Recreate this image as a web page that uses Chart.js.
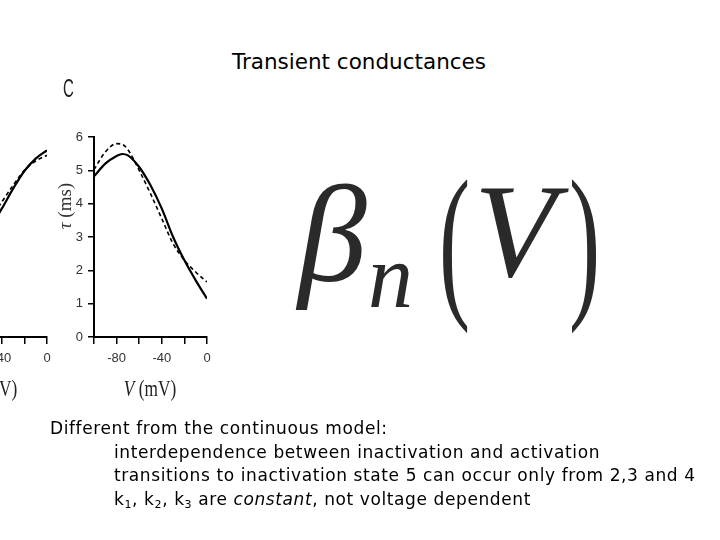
<!DOCTYPE html>
<html>
<head>
<meta charset="utf-8">
<script src="https://cdn.jsdelivr.net/npm/chart.js@4"></script>
<style>
  html, body { margin: 0; padding: 0; }
  body { width: 720px; height: 540px; position: relative; overflow: hidden; background: #fff; font-family: "DejaVu Sans", sans-serif; color: #000; }
  canvas { position: absolute; }
  .abs { position: absolute; white-space: nowrap; }
  #title { left: 0; width: 718px; top: 48px; text-align: center; font-size: 21.5px; line-height: 27px; }
  #notes { left: 50px; top: 417px; font-size: 17px; line-height: 23.5px; letter-spacing: 0.6px; }
  #notes .ind { padding-left: 64px; }
  #notes sub { font-size: 11px; vertical-align: -3px; line-height: 0; }
  .serif { font-family: "Liberation Serif", serif; }
  .xtitle { top: 374px; width: 120px; text-align: center; font-size: 24px; line-height: 28px; transform: scaleX(0.72); color: #222; }
  #ytitle { left: 35px; top: 195px; width: 60px; text-align: center; font-size: 19px; line-height: 22px; transform: rotate(-90deg); color: #333; }
  #panel { left: 63px; top: 73px; font-family: "Liberation Sans", sans-serif; font-size: 25px; line-height: 30px; transform: scaleX(0.6); transform-origin: left top; color: #222; }
  .math { font-family: "Liberation Serif", serif; line-height: 1; color: #2a2a2a; filter: blur(0.6px); }
  .paren { transform: scaleX(0.55); transform-origin: left top; }
</style>
</head>
<body>
<div id="title" class="abs">Transient conductances</div>

<canvas id="leftPanel" width="180" height="300" style="left:-120px; top:120px;"></canvas>
<canvas id="mainPanel" width="180" height="300" style="left:40px; top:120px;"></canvas>

<div id="panel" class="abs">C</div>
<div id="ytitle" class="abs serif"><i>τ</i> (ms)</div>
<div class="abs serif xtitle" style="left:-69px;"><i>V</i> (mV)</div>
<div class="abs serif xtitle" style="left:90px;"><i>V</i> (mV)</div>

<span class="abs math" style="left:298px; top:166px; font-size:138px;"><i>β</i></span>
<span class="abs math" style="left:368px; top:232px; font-size:90px;"><i>n</i></span>
<span class="abs math paren" style="left:439px; top:155px; font-size:170px;">(</span>
<span class="abs math" style="left:474px; top:164px; font-size:134px;"><i>V</i></span>
<span class="abs math paren" style="left:569px; top:155px; font-size:170px;">)</span>

<div id="notes" class="abs">
  <div>Different from the continuous model:</div>
  <div class="ind">interdependence between inactivation and activation</div>
  <div class="ind">transitions to inactivation state 5 can occur only from 2,3 and 4</div>
  <div class="ind">k<sub>1</sub>, k<sub>2</sub>, k<sub>3</sub> are <i>constant</i>, not voltage dependent</div>
</div>

<script>
// panel C: time constant vs voltage (solid and dashed model)
const voltC = [-100, -90, -80, -75, -70, -60, -50, -40, -30, -20, -10, 0];
const tauSolidC = [4.82, 5.2, 5.43, 5.49, 5.45, 5.1, 4.55, 3.85, 3.0, 2.3, 1.7, 1.15];
const tauDashedC = [5.02, 5.55, 5.8, 5.78, 5.62, 5.0, 4.3, 3.55, 2.8, 2.3, 1.95, 1.65];

// neighbouring panel, only its right end is visible
const voltB = [-50, -40, -30, -20, -10, 0];
const tauSolidB = [3.3, 3.85, 4.45, 4.98, 5.35, 5.6];
const tauDashedB = [3.55, 4.05, 4.55, 5.0, 5.28, 5.45];

const xLabelled = [-80, -40, 0];
const tickFont = { family: "'Liberation Sans', sans-serif", size: 13 };

function toPoints(xs, ys) {
  return xs.map((x, i) => ({ x: x, y: ys[i] }));
}

function makePanel(id, volts, solid, dashed) {
  const ctx = document.getElementById(id).getContext("2d");
  return new Chart(ctx, {
    type: "line",
    data: {
      datasets: [
        {
          label: "solid",
          data: toPoints(volts, solid),
          borderColor: "#000",
          borderWidth: 2.2,
          pointRadius: 0,
          cubicInterpolationMode: "monotone",
          fill: false,
        },
        {
          label: "dashed",
          data: toPoints(volts, dashed),
          borderColor: "#000",
          borderWidth: 1.6,
          borderDash: [4, 3],
          pointRadius: 0,
          cubicInterpolationMode: "monotone",
          fill: false,
        },
      ],
    },
    options: {
      responsive: false,
      animation: false,
      layout: { padding: { left: 14, top: 17, right: 13, bottom: 43 } },
      plugins: { legend: { display: false }, tooltip: { enabled: false } },
      scales: {
        x: {
          type: "linear",
          min: -100,
          max: 0,
          afterFit: (s) => { s.height = 40; },
          border: { display: true, color: "#000", width: 2 },
          grid: { drawOnChartArea: false, drawTicks: true, tickLength: 7, color: "#000", lineWidth: 1.5 },
          ticks: {
            stepSize: 20,
            padding: 7,
            color: "#333",
            font: tickFont,
            maxRotation: 0,
            autoSkip: false,
            callback: (v) => (xLabelled.includes(v) ? v : ""),
          },
        },
        y: {
          min: 0,
          max: 6,
          afterFit: (s) => { s.width = 40; },
          border: { display: true, color: "#000", width: 2 },
          grid: { drawOnChartArea: false, drawTicks: true, tickLength: 6, color: "#000", lineWidth: 1.5 },
          ticks: { stepSize: 1, padding: 5, color: "#333", font: tickFont },
        },
      },
    },
  });
}

makePanel("leftPanel", voltB, tauSolidB, tauDashedB);
makePanel("mainPanel", voltC, tauSolidC, tauDashedC);
</script>
</body>
</html>
